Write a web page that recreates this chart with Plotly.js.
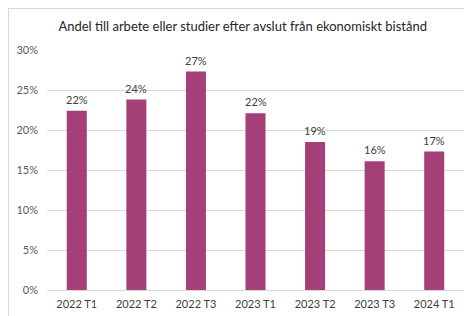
<!DOCTYPE html>
<html>
<head>
<meta charset="utf-8">
<script src="https://cdn.plot.ly/plotly-3.0.1.min.js"></script>
<style>
html,body{margin:0;padding:0;background:#fff;}
#frame{position:absolute;left:8px;top:8px;width:470px;height:320px;border:1px solid #d9d9d9;box-sizing:border-box;pointer-events:none;z-index:2;}
#chart{position:absolute;left:0;top:0;width:464px;height:316px;}
</style>
</head>
<body>
<div id="chart"></div>
<div id="frame"></div>
<script>
const categories = ["2022 T1","2022 T2","2022 T3","2023 T1","2023 T2","2023 T3","2024 T1"];
const values = [0.224, 0.238, 0.273, 0.221, 0.185, 0.161, 0.173];
const valueLabels = ["22%","24%","27%","22%","19%","16%","17%"];
const yTicks = [0, 0.05, 0.10, 0.15, 0.20, 0.25, 0.30];
const yTickLabels = ["0%","5%","10%","15%","20%","25%","30%"];

const font = "Lato, 'Open Sans', sans-serif";
const annotations = categories.map((c, i) => ({
  x: c, y: values[i], xref: "x", yref: "y",
  text: valueLabels[i], showarrow: false,
  yanchor: "bottom", yshift: 3,
  font: {family: font, size: 11, color: "#404040"}
}));
Plotly.newPlot("chart", [{
  type: "bar",
  x: categories,
  y: values,
  marker: {color: "#A43F78"},
  hoverinfo: "none"
}], {
  width: 464, height: 316,
  margin: {l: 47, r: 0, t: 50, b: 26, pad: 0},
  paper_bgcolor: "#fff", plot_bgcolor: "#fff",
  bargap: 0.664,
  showlegend: false,
  annotations: annotations,
  title: {text: "Andel till arbete eller studier efter avslut från ekonomiskt bistånd",
          font: {family: font, size: 13, color: "#262626"},
          x: 0.523, xanchor: "center", y: 0.915, yanchor: "middle"},
  xaxis: {type: "category", tickfont: {family: font, size: 11, color: "#404040"},
          showgrid: false, showline: true, linecolor: "#d9d9d9", linewidth: 1,
          ticks: "", ticklabelstandoff: 4, zeroline: false},
  yaxis: {range: [0, 0.30], tickvals: yTicks, ticktext: yTickLabels,
          tickfont: {family: font, size: 11, color: "#595959"},
          showgrid: true, gridcolor: "#d9d9d9", gridwidth: 1,
          zeroline: false, showline: false, ticks: "", ticklabelstandoff: 8}
}, {staticPlot: true});
</script>
</body>
</html>
